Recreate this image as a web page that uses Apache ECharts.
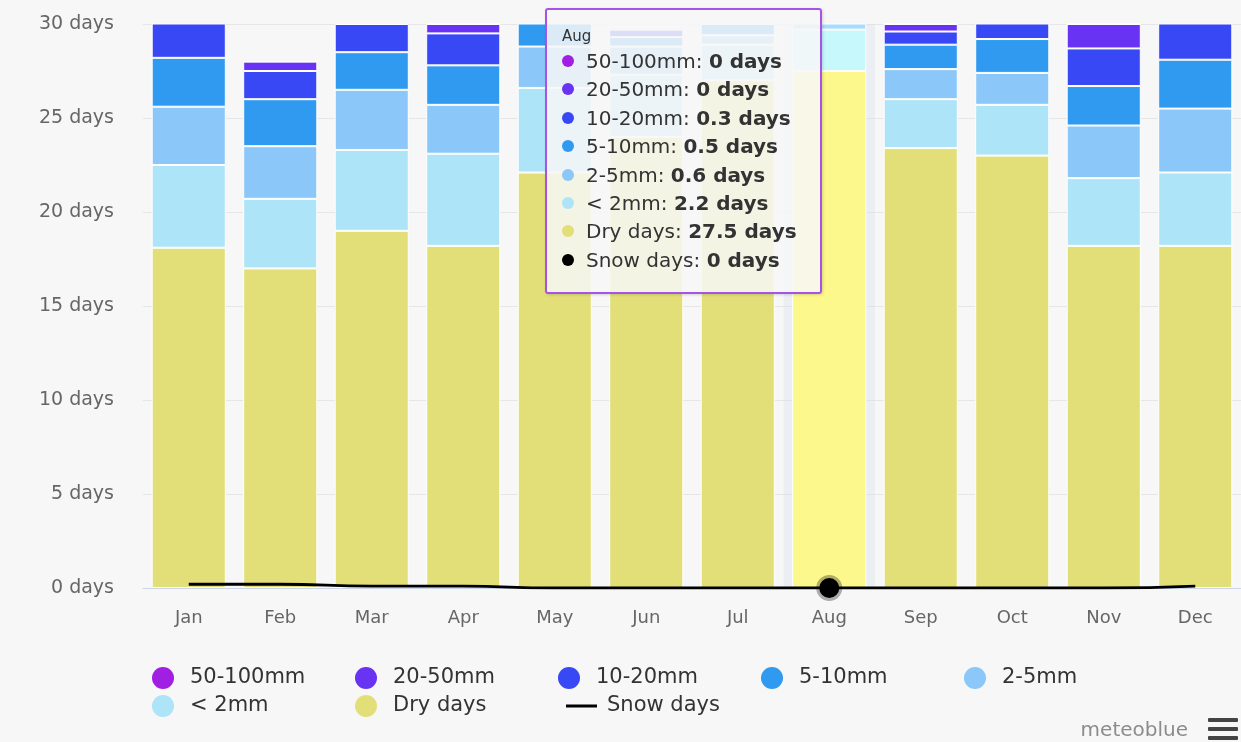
<!DOCTYPE html>
<html>
<head>
<meta charset="utf-8">
<script src="https://cdn.jsdelivr.net/npm/echarts@6/dist/echarts.min.js"></script>
<style>
html, body { margin: 0; padding: 0; background: #f7f7f7; }
#chart { width: 1241px; height: 742px; }
</style>
</head>
<body>
<div id="chart"></div>
<script>
// precipitation days per month
var months = ['Jan', 'Feb', 'Mar', 'Apr', 'May', 'Jun', 'Jul', 'Aug', 'Sep', 'Oct', 'Nov', 'Dec'];
var dryDays   = [18.1, 17.0, 19.0, 18.2, 22.1, 24.0, 27.0, 27.5, 23.4, 23.0, 18.2, 18.2];
var below2mm  = [4.4, 3.7, 4.3, 4.9, 4.5, 3.3, 1.9, 2.2, 2.6, 2.7, 3.6, 3.9];
var mm2to5    = [3.1, 2.8, 3.2, 2.6, 2.2, 1.5, 0.5, 0.6, 1.6, 1.7, 2.8, 3.4];
var mm5to10   = [2.6, 2.5, 2.0, 2.1, 1.4, 0.5, 0.6, 0.5, 1.3, 1.8, 2.1, 2.6];
var mm10to20  = [2.3, 1.5, 1.5, 1.7, 0.6, 0.4, 0.5, 0.3, 0.7, 1.3, 2.0, 2.2];
var mm20to50  = [0.4, 0.5, 0.7, 0.5, 0.2, 0.1, 0.3, 0, 0.4, 0.4, 1.3, 0.6];
var mm50to100 = [0.1, 0, 0.3, 0, 0, 0, 0.1, 0, 0, 0.1, 0, 0.1];
var snowDays  = [0.2, 0.2, 0.1, 0.1, 0, 0, 0, 0, 0, 0, 0, 0.1];
var yTicks = [0, 5, 10, 15, 20, 25, 30];

var FONT = '"DejaVu Sans", Verdana, sans-serif';

// bottom -> top of the stack
var barDefs = [
    {name: 'Dry days',  data: dryDays,   color: '#e3df78', hover: '#fdf88c'},
    {name: '< 2mm',     data: below2mm,  color: '#ade4f7', hover: '#c6f8fc'},
    {name: '2-5mm',     data: mm2to5,    color: '#8bc8f9', hover: '#a8dcff'},
    {name: '5-10mm',    data: mm5to10,   color: '#2f9af0', hover: '#4db3ff'},
    {name: '10-20mm',   data: mm10to20,  color: '#3848f5', hover: '#5565ff'},
    {name: '20-50mm',   data: mm20to50,  color: '#6833f2', hover: '#864fff'},
    {name: '50-100mm',  data: mm50to100, color: '#a01fe3', hover: '#ba3cff'}
];

function $each(arr, fn) {
    for (var i = 0; i < arr.length; i++) fn(arr[i], i);
}

var series = [];
$each(barDefs, function (d) {
    series.push({
        name: d.name,
        type: 'bar',
        stack: 'days',
        data: d.data,
        barCategoryGap: '19%',
        itemStyle: {color: d.color, borderColor: '#ffffff', borderWidth: 1},
        emphasis: {itemStyle: {color: d.hover, borderColor: '#ffffff', borderWidth: 1}}
    });
});
series.push({
    name: 'Snow days',
    type: 'line',
    data: snowDays,
    smooth: true,
    showSymbol: false,
    symbol: 'circle',
    symbolSize: 20,
    z: 5,
    lineStyle: {color: '#000000', width: 2.8},
    itemStyle: {color: '#000000'},
    emphasis: {
        scale: false,
        itemStyle: {color: '#000000', borderColor: 'rgba(0,0,0,0.3)', borderWidth: 6}
    }
});

function fmtDays(v) {
    return (Math.round(v * 10) / 10) + ' days';
}

function tipRow(color, name, val) {
    return '<div style="line-height:28.4px;font-size:20px;color:#333;white-space:nowrap">' +
        '<span style="display:inline-block;width:12px;height:12px;border-radius:6px;background:' + color +
        ';margin-right:12px;vertical-align:1px"></span>' + name + ': <b>' + fmtDays(val) + '</b></div>';
}

// legend icon for the snow line: short black stroke
var snowIcon = 'image://data:image/svg+xml;utf8,' + encodeURIComponent(
    '<svg xmlns="http://www.w3.org/2000/svg" width="44" height="22">' +
    '<rect x="8" y="9.5" width="31" height="3" fill="#000"/></svg>');

var legendText = {color: '#333333', fontSize: 21, fontFamily: FONT, width: 150, lineHeight: 22};

var chart = echarts.init(document.getElementById('chart'));
chart.setOption({
    animation: false,
    backgroundColor: '#f7f7f7',
    grid: {left: 143, top: 24, width: 1100, height: 564},
    legend: [{
        left: 147, top: 662, itemWidth: 44, itemHeight: 22, itemGap: 15,
        icon: 'circle', itemStyle: {borderWidth: 0}, textStyle: legendText,
        data: ['50-100mm', '20-50mm', '10-20mm', '5-10mm', '2-5mm']
    }, {
        left: 147, top: 690, itemWidth: 44, itemHeight: 22, itemGap: 15,
        itemStyle: {borderWidth: 0}, textStyle: legendText,
        data: [{name: '< 2mm', icon: 'circle'}, {name: 'Dry days', icon: 'circle'}, {name: 'Snow days', icon: snowIcon}]
    }],
    tooltip: {
        trigger: 'axis',
        alwaysShowContent: true,
        position: [545, 8],
        backgroundColor: 'rgba(247,247,247,0.86)',
        borderColor: '#a653e6',
        borderWidth: 2,
        padding: [16, 12, 18, 15],
        extraCssText: 'border-radius:3px;box-shadow:1px 1px 3px rgba(0,0,0,0.15);width:246px;font-family:' + FONT,
        axisPointer: {type: 'shadow', z: 1, shadowStyle: {color: 'rgba(204,214,235,0.28)'}},
        formatter: function (params) {
            var html = '<div style="font-size:15px;color:#333;line-height:20px;margin-bottom:1px">' +
                params[0].axisValue + '</div>';
            var bars = params.filter(function (p) { return p.seriesType === 'bar'; }).reverse();
            $each(bars, function (p) { html += tipRow(p.color, p.seriesName, p.value); });
            $each(params, function (p) {
                if (p.seriesType === 'line') html += tipRow('#000000', p.seriesName, p.value);
            });
            return html;
        }
    },
    xAxis: {
        type: 'category',
        data: months,
        axisLine: {lineStyle: {color: '#ccd6eb'}},
        axisTick: {show: false},
        axisLabel: {color: '#666666', fontSize: 18, fontFamily: FONT, margin: 21}
    },
    yAxis: {
        type: 'value',
        min: yTicks[0],
        max: yTicks[yTicks.length - 1],
        interval: 5,
        axisLabel: {color: '#666666', fontSize: 19, fontFamily: FONT, margin: 29, formatter: '{value} days'},
        splitLine: {lineStyle: {color: '#e6e6e6'}}
    },
    graphic: [
        {type: 'text', right: 53, top: 721, style: {text: 'meteoblue', fill: '#8c8c8c', fontSize: 20, fontFamily: FONT}},
        {type: 'rect', left: 1208, top: 718, shape: {width: 30, height: 4, r: 1}, style: {fill: '#444444'}},
        {type: 'rect', left: 1208, top: 727, shape: {width: 30, height: 4, r: 1}, style: {fill: '#444444'}},
        {type: 'rect', left: 1208, top: 736, shape: {width: 30, height: 4, r: 1}, style: {fill: '#444444'}}
    ],
    series: series
});
chart.dispatchAction({type: 'showTip', seriesIndex: 0, dataIndex: 7});
</script>
</body>
</html>
